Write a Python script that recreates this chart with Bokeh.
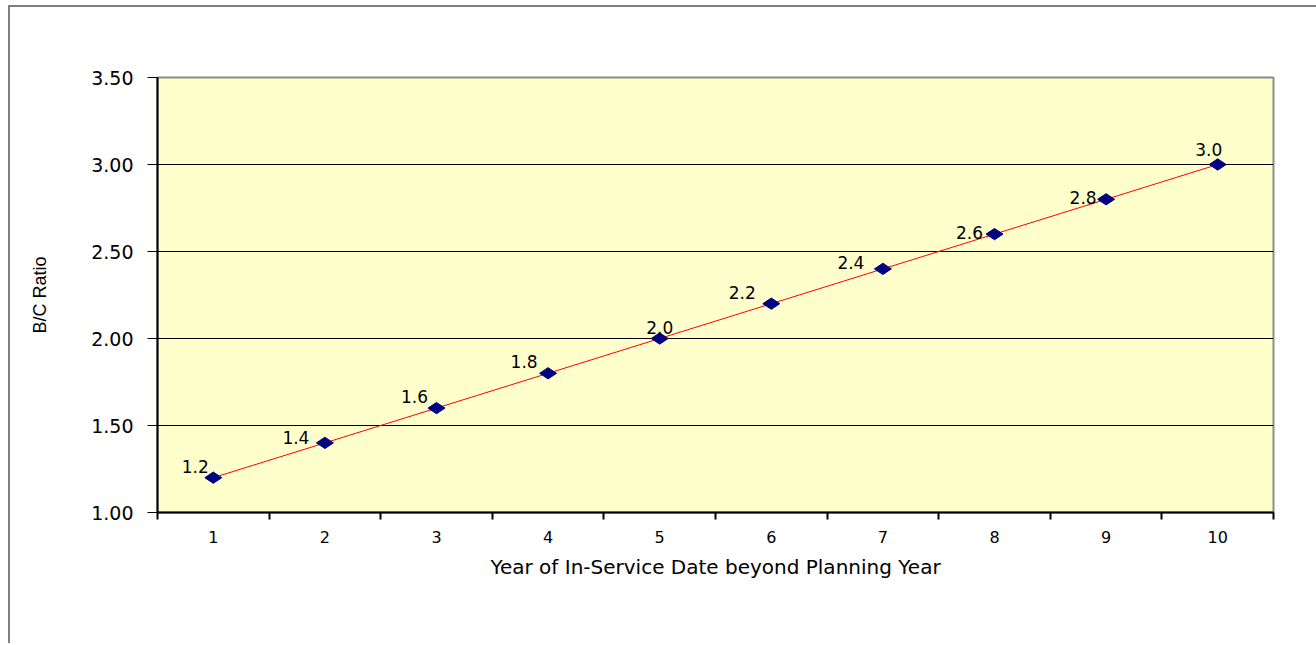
import math
from bokeh.plotting import figure
from bokeh.models import (Range1d, FixedTicker, ColumnDataSource,
                          PrintfTickFormatter, LabelSet)
from bokeh.core.properties import value
from bokeh.embed import file_html
from bokeh.resources import INLINE

# ---- data ----
years = [1, 2, 3, 4, 5, 6, 7, 8, 9, 10]
bc_ratio = [1.2, 1.4, 1.6, 1.8, 2.0, 2.2, 2.4, 2.6, 2.8, 3.0]
point_labels = ["1.2", "1.4", "1.6", "1.8", "2.0", "2.2", "2.4", "2.6", "2.8", "3.0"]
y_ticks = [1.0, 1.5, 2.0, 2.5, 3.0, 3.5]
x_title = "Year of In-Service Date beyond Planning Year"
y_title = "B/C Ratio"

# label placement offsets (screen px, style only)
label_dx = [-18, -29, -22, -24, 0, -29, -32, -25, -23, -9]
label_dy = [5, -1, 5, 5, 5, 5, 0, -5, -5, 9]

src = ColumnDataSource(dict(x=years, y=bc_ratio, t=point_labels, dx=label_dx, dy=label_dy))

# outer chart border drawn via CSS on the host element (offset 8px/5px, 2px line)
p = figure(frame_width=1116, frame_height=435,
           min_border_left=147, min_border_right=43, min_border_top=70, min_border_bottom=131,
           output_backend="svg", toolbar_location=None,
           x_range=Range1d(0.5, len(years) + 0.5), y_range=Range1d(y_ticks[0], y_ticks[-1]),
           styles={"margin-left": "8px", "margin-top": "5px",
                   "border-left": "2px solid #808080", "border-top": "2px solid #808080"})

p.background_fill_color = "#FFFFCC"
p.border_fill_color = "white"
p.outline_line_color = "#8c8c8c"
p.outline_line_width = 2

# grid
p.xgrid.visible = False
p.ygrid.ticker = FixedTicker(ticks=y_ticks[1:-1])
p.ygrid.grid_line_color = "black"
p.ygrid.grid_line_width = 1

# x axis
xa = p.xaxis[0]
xa.ticker = FixedTicker(ticks=years, minor_ticks=[v - 0.5 for v in years] + [years[-1] + 0.5])
xa.major_tick_out = 0
xa.major_tick_in = 0
xa.minor_tick_out = 7
xa.minor_tick_in = 0
xa.minor_tick_line_color = "black"
xa.minor_tick_line_width = 2
xa.axis_line_color = "black"
xa.axis_line_width = 2
xa.major_label_standoff = 11
xa.major_label_text_font = "DejaVu Sans"
xa.major_label_text_font_size = "16px"
xa.major_label_text_color = "black"
xa.axis_label = x_title
xa.axis_label_text_font = "DejaVu Sans"
xa.axis_label_text_font_size = "20px"
xa.axis_label_text_font_style = "normal"
xa.axis_label_text_color = "black"
xa.axis_label_standoff = 9

# y axis
ya = p.yaxis[0]
ya.ticker = FixedTicker(ticks=y_ticks)
ya.formatter = PrintfTickFormatter(format="%.2f")
ya.major_tick_out = 10
ya.major_tick_in = 0
ya.major_tick_line_color = "black"
ya.major_tick_line_width = 1
ya.minor_tick_out = 0
ya.minor_tick_in = 0
ya.axis_line_color = "black"
ya.axis_line_width = 2
ya.major_label_standoff = 14
ya.major_label_text_font = "DejaVu Sans"
ya.major_label_text_font_size = "19px"
ya.major_label_text_color = "black"
ya.axis_label = y_title
ya.axis_label_text_font = "Liberation Sans"
ya.axis_label_text_font_size = "18px"
ya.axis_label_text_font_style = "normal"
ya.axis_label_text_color = "black"
ya.axis_label_standoff = 38

# series
p.line("x", "y", source=src, line_color="#FF0000", line_width=1)
p.scatter("x", "y", source=src, marker="diamond", size=17, angle=math.pi / 2,
          fill_color="#000080", line_color="#000080")

labels = LabelSet(x="x", y="y", text="t", source=src, x_offset="dx", y_offset="dy",
                  text_align="center", text_baseline="alphabetic",
                  text_font=value("DejaVu Sans"), text_font_size="17px", text_color="black")
p.add_layout(labels)

open("out.html", "w").write(file_html(p, INLINE))
